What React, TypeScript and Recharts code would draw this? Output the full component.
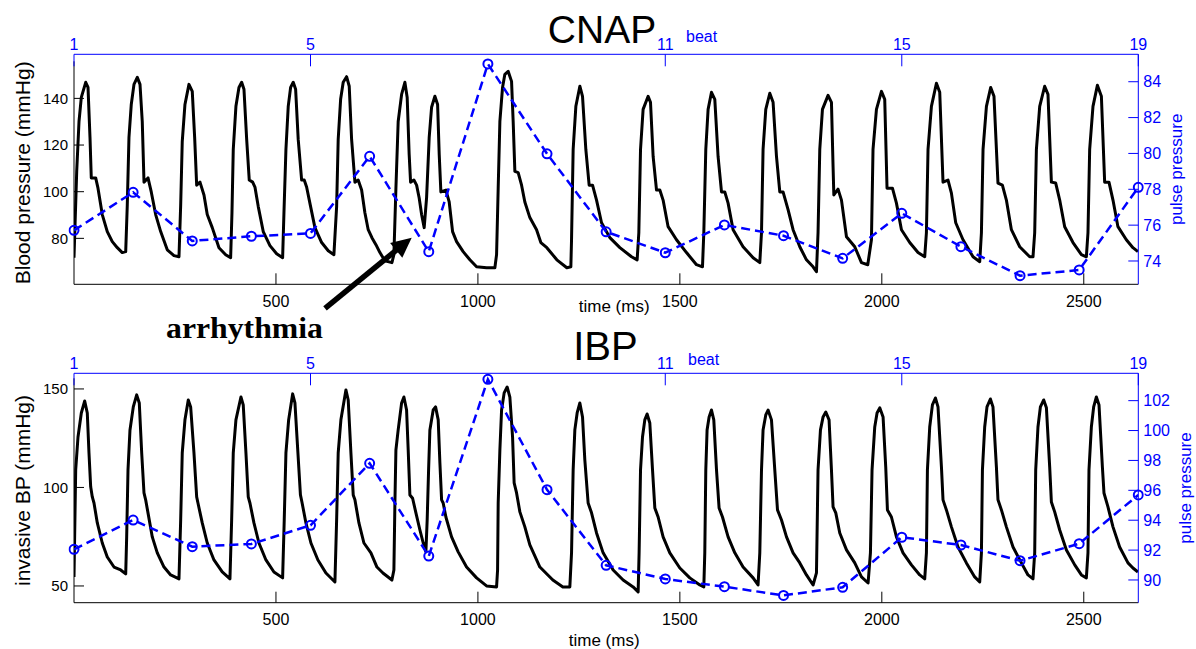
import { LineChart, Line, XAxis, YAxis } from 'recharts';

// CNAP waveform, one beat per row (time in ms, pressure in mmHg)
const cnapTime = [
  0, 6.7, 12.4, 18.1, 29.0, 34.7, 39.6, 42.8, 53.7, 59.4, 70.0, 82.4, 94.8, 107.2, 119.5, 128.0,
  131.9, 136.1, 141.8, 148.5, 156.7, 163.4, 169.0, 173.3, 183.2, 191.3, 202.2, 214.6, 230.9, 247.5, 259.9,
  264.1, 268.0, 274.7, 284.6, 292.8, 298.7, 303.7, 311.9, 321.8, 329.9, 342.3, 358.9, 375.5, 387.8,
  391.1, 394.3, 400.9, 408.4, 415.1, 420.8, 427.5, 433.9, 442.3, 448.0, 456.2, 468.5, 485.1, 501.7, 516.5,
  519.8, 524.7, 530.4, 536.3, 542.8, 548.7, 555.1, 563.6, 570.0, 575.9, 585.8, 596.5, 613.1, 629.4, 643.5,
  650.2, 654.1, 660.1, 666.5, 674.9, 681.4, 687.3, 695.5, 703.6, 712.1, 720.2, 728.4, 737.6, 747.5, 757.4, 769.7, 787.1,
  792.0, 797.0, 802.6, 811.1, 819.2, 824.9, 829.8, 833.3, 841.5, 848.2, 854.6, 860.6, 867.0,
  872.9, 879.4, 885.3, 893.5, 900.2, 904.2, 908.3, 920.7, 928.9, 937.3, 947.2, 963.5, 980.1, 996.7, 1021.4, 1042.0,
  1046.2, 1050.2, 1054.4, 1061.0, 1066.7, 1074.9, 1083.3, 1087.3, 1091.5, 1099.7, 1108.1, 1116.2, 1128.6, 1145.2, 1155.8, 1170.7, 1195.4, 1220.2, 1230.1,
  1231.8, 1235.8, 1242.5, 1252.4, 1259.0, 1267.2, 1275.4, 1283.8, 1293.7, 1306.1, 1326.6, 1351.4, 1380.3, 1394.2,
  1398.4, 1402.6, 1409.0, 1421.4, 1427.3, 1433.8, 1442.2, 1450.4, 1458.5, 1470.9, 1491.7, 1516.4, 1541.2, 1556.0,
  1559.3, 1564.2, 1569.9, 1578.3, 1586.5, 1594.6, 1603.1, 1611.2, 1619.4, 1631.8, 1656.5, 1681.3, 1697.9,
  1702.1, 1706.0, 1712.7, 1722.6, 1730.8, 1739.2, 1747.4, 1755.5, 1767.9, 1780.3, 1796.9, 1813.4, 1829.8, 1838.2,
  1842.1, 1846.4, 1853.0, 1866.9, 1875.3, 1879.3, 1881.2, 1891.6, 1900.1, 1912.5, 1933.0, 1949.6, 1965.2,
  1974.3, 1978.2, 1986.7, 1999.1, 2007.2, 2012.9, 2026.3, 2036.2, 2048.6, 2069.1, 2089.6, 2106.2,
  2110.4, 2114.4, 2122.8, 2135.2, 2143.4, 2151.5, 2163.9, 2172.3, 2183.0, 2201.0, 2225.8, 2242.4,
  2246.6, 2250.6, 2259.0, 2269.6, 2277.7, 2287.6, 2298.5, 2308.4, 2320.8, 2341.4, 2366.1, 2374.3,
  2378.5, 2382.7, 2390.9, 2403.2, 2411.4, 2419.8, 2430.5, 2440.4, 2452.7, 2473.3, 2494.1, 2506.4,
  2510.4, 2514.6, 2522.8, 2533.7, 2543.6, 2551.7, 2562.4, 2572.3, 2584.6, 2605.4, 2621.7, 2634.1,
];
const cnapBP = [
  71.7, 108.7, 130.1, 140.4, 146.9, 144.7, 123.3, 105.9, 105.9, 101.5, 90.2, 82.9, 78.6, 76.0, 73.9, 74.3,
  94.2, 123.3, 137.4, 146.0, 149.0, 146.0, 130.1, 104.1, 105.9, 99.9, 90.2, 82.9, 75.1, 72.6, 72.1,
  94.2, 121.5, 137.4, 146.0, 143.0, 123.3, 102.8, 104.1, 98.6, 90.2, 84.6, 76.0, 73.0, 71.7,
  91.0, 118.1, 136.6, 144.7, 146.9, 143.9, 122.4, 105.0, 104.1, 102.0, 93.6, 82.9, 76.9, 73.4, 71.7,
  91.0, 118.1, 136.6, 144.7, 146.9, 143.9, 122.4, 105.0, 105.0, 102.0, 93.6, 84.6, 78.2, 74.7, 73.0,
  93.6, 122.4, 139.6, 146.9, 149.3, 145.2, 122.4, 104.1, 105.0, 100.7, 91.0, 83.7, 80.3, 77.3, 73.9, 70.4, 69.6,
  73.0, 101.5, 130.1, 141.7, 146.9, 140.4, 116.0, 104.1, 105.0, 102.8, 97.3, 90.2, 84.6,
  97.3, 123.3, 136.2, 140.9, 137.4, 116.0, 99.9, 100.7, 95.6, 82.9, 78.6, 74.3, 70.8, 67.8, 67.4, 67.4,
  73.0, 101.5, 130.1, 144.7, 150.3, 151.6, 147.3, 130.1, 108.7, 108.2, 102.8, 95.6, 88.9, 83.7, 78.2, 76.0, 70.8, 67.4, 67.8,
  79.4, 118.1, 136.6, 145.2, 140.9, 118.1, 102.8, 102.8, 96.4, 86.7, 80.3, 76.0, 72.1, 70.8,
  82.4, 118.1, 135.3, 140.9, 138.3, 115.1, 100.7, 100.7, 96.4, 85.0, 79.4, 73.9, 68.7, 67.8,
  82.4, 118.1, 135.3, 142.6, 139.6, 115.1, 99.9, 99.9, 95.1, 83.7, 76.4, 71.7, 69.6,
  82.4, 118.1, 135.3, 142.2, 138.3, 115.1, 99.9, 99.9, 92.3, 83.7, 76.4, 70.8, 67.8, 65.7,
  82.4, 118.1, 135.3, 141.3, 138.3, 110.8, 98.6, 101.1, 96.4, 80.7, 76.4, 69.6, 68.7,
  79.4, 118.1, 135.3, 143.0, 139.6, 101.5, 101.5, 95.1, 83.7, 78.2, 73.9, 72.1,
  82.4, 118.1, 136.6, 146.5, 142.6, 104.1, 105.0, 99.4, 86.7, 79.4, 72.1, 70.0,
  82.4, 118.1, 136.6, 144.7, 140.9, 103.7, 102.8, 96.4, 83.7, 76.4, 72.1, 72.1,
  82.4, 118.1, 136.6, 145.2, 141.7, 104.1, 103.7, 96.4, 85.0, 78.2, 73.0, 72.1,
  82.4, 118.1, 136.6, 145.6, 140.9, 104.1, 104.1, 96.4, 85.0, 79.4, 76.0, 74.3,
];

// invasive (IBP) waveform
const ibpTime = [
  0, 4.2, 9.9, 18.1, 26.5, 32.9, 37.1, 41.3, 45.3, 49.5, 57.7, 70.0, 82.4, 99.0, 115.6, 128.0,
  130.4, 133.7, 138.6, 146.8, 155.2, 161.6, 167.6, 173.3, 177.4, 183.2, 193.8, 206.2, 222.8, 239.3, 259.9,
  264.1, 268.0, 274.7, 282.9, 288.8, 297.0, 303.7, 306.9, 317.5, 329.9, 346.5, 367.0, 386.1,
  390.3, 394.3, 400.9, 413.3, 419.0, 425.7, 431.4, 435.6, 445.5, 457.9, 475.2, 495.0, 516.5,
  520.5, 524.7, 531.4, 541.3, 547.0, 554.4, 560.6, 564.3, 574.2, 586.6, 603.9, 623.7, 646.0,
  650.2, 654.1, 660.8, 673.2, 678.9, 685.6, 691.3, 695.5, 705.4, 717.8, 735.1, 750.0, 764.8, 787.1,
  792.0, 794.5, 797.0, 802.6, 811.1, 816.8, 823.4, 827.4, 831.6, 838.3, 846.5, 856.4, 864.6, 871.2,
  874.4, 877.9, 881.1, 889.3, 895.2, 901.7, 905.9, 910.1, 914.0, 920.7, 934.8, 951.1, 971.9, 996.7, 1021.4, 1046.2,
  1048.7, 1050.2, 1054.4, 1058.6, 1065.0, 1072.4, 1079.1, 1085.8, 1089.7, 1095.7, 1103.9, 1116.2, 1128.6, 1153.4, 1185.5, 1210.3, 1227.6,
  1231.8, 1235.8, 1240.0, 1245.7, 1252.4, 1259.0, 1264.7, 1272.9, 1281.3, 1293.7, 1310.0, 1334.8, 1359.5, 1384.3, 1396.7,
  1399.1, 1402.6, 1407.5, 1413.2, 1418.9, 1425.6, 1432.3, 1438.0, 1446.2, 1458.5, 1475.1, 1499.9, 1524.6, 1549.4, 1559.3,
  1561.7, 1564.2, 1567.4, 1572.4, 1578.3, 1584.0, 1590.7, 1597.1, 1605.5, 1619.4, 1636.0, 1656.5, 1681.3, 1693.6,
  1697.9, 1702.1, 1706.0, 1712.7, 1718.4, 1726.8, 1735.0, 1741.7, 1751.6, 1764.0, 1780.3, 1796.9, 1813.4, 1829.8,
  1838.2, 1842.1, 1848.1, 1854.6, 1861.3, 1869.4, 1875.3, 1879.3, 1886.0, 1895.9, 1912.5, 1933.0, 1949.6, 1966.0,
  1971.8, 1975.8, 1982.5, 1988.2, 1994.9, 2003.1, 2009.7, 2013.9, 2023.8, 2036.2, 2052.5, 2073.3, 2093.9, 2106.2,
  2110.4, 2112.9, 2118.6, 2125.3, 2132.7, 2139.1, 2147.6, 2151.5, 2159.9, 2172.3, 2188.6, 2209.4, 2229.9, 2242.4,
  2246.6, 2249.1, 2254.7, 2260.4, 2268.8, 2275.2, 2283.7, 2287.6, 2296.1, 2308.4, 2324.8, 2345.5, 2361.9, 2374.3,
  2378.5, 2381.0, 2386.6, 2392.6, 2400.8, 2407.5, 2415.6, 2419.8, 2428.0, 2440.4, 2457.0, 2477.6, 2494.1, 2506.4,
  2510.4, 2512.9, 2518.8, 2524.5, 2531.2, 2537.7, 2546.1, 2550.0, 2559.9, 2572.3, 2588.8, 2609.4, 2621.7, 2634.1,
];
const ibpBP = [
  54.6, 108.9, 125.6, 137.8, 143.9, 137.8, 117.5, 100.3, 95.2, 92.1, 82.0, 71.8, 64.7, 59.6, 58.1, 56.1,
  74.9, 108.9, 129.2, 140.9, 147.0, 142.9, 117.5, 97.2, 93.7, 87.1, 74.9, 66.8, 59.6, 55.6, 53.6,
  83.5, 117.5, 134.3, 144.4, 140.9, 117.5, 95.2, 92.1, 82.0, 71.8, 63.2, 57.1, 53.6,
  83.5, 117.5, 134.3, 145.9, 141.9, 117.5, 95.2, 92.1, 82.0, 71.8, 63.2, 57.1, 54.1,
  83.5, 117.5, 134.3, 147.5, 142.9, 117.5, 96.2, 92.6, 82.0, 71.8, 63.2, 56.6, 52.0,
  83.5, 117.5, 134.3, 149.5, 144.4, 117.5, 96.2, 93.7, 82.0, 71.8, 66.8, 59.6, 56.6, 53.0,
  58.1, 92.1, 119.0, 129.2, 142.9, 145.9, 139.3, 119.0, 96.2, 94.5, 87.1, 78.4, 71.8, 67.3,
  83.5, 108.9, 129.2, 139.3, 140.9, 134.3, 112.4, 93.7, 92.1, 85.0, 74.9, 67.3, 59.6, 54.1, 50.0, 49.5,
  58.1, 92.1, 119.0, 139.3, 148.0, 151.0, 145.9, 125.6, 102.3, 97.2, 87.6, 80.0, 70.8, 59.6, 53.0, 49.5, 49.5,
  66.8, 108.9, 129.2, 137.8, 142.9, 135.8, 114.0, 92.1, 87.1, 76.9, 66.8, 58.1, 53.0, 49.5, 47.0,
  66.8, 108.9, 125.6, 134.3, 137.3, 132.7, 108.9, 89.6, 85.0, 74.9, 66.8, 59.1, 54.1, 50.5, 49.5,
  66.8, 108.9, 129.2, 135.8, 139.3, 134.3, 108.9, 89.6, 85.0, 74.9, 66.8, 59.6, 54.1, 50.5,
  66.8, 108.9, 129.2, 136.8, 139.3, 134.3, 108.9, 88.6, 83.5, 74.9, 66.8, 61.7, 55.6, 50.5,
  56.6, 108.9, 129.2, 135.8, 138.3, 134.3, 108.9, 90.1, 87.1, 76.9, 68.3, 61.7, 54.6, 51.5,
  66.8, 108.9, 130.7, 137.8, 140.4, 135.8, 110.4, 88.6, 85.0, 74.9, 66.8, 60.7, 55.6, 53.6,
  66.8, 108.9, 130.7, 141.9, 145.4, 140.9, 110.4, 93.7, 88.6, 80.0, 69.8, 61.7, 54.6, 52.0,
  66.8, 108.9, 130.7, 140.9, 144.9, 140.9, 110.4, 93.7, 88.6, 80.0, 69.8, 61.7, 55.6, 53.6,
  66.8, 108.9, 130.7, 140.9, 144.4, 140.4, 110.4, 92.6, 87.6, 78.4, 68.3, 60.7, 55.6, 54.1,
  66.8, 108.9, 130.7, 140.9, 145.9, 141.9, 110.4, 97.2, 90.1, 80.0, 69.8, 61.7, 59.1, 57.1,
];

// pulse pressure per beat
const beats = [1, 2, 3, 4, 5, 6, 7, 8, 9, 10, 11, 12, 13, 14, 15, 16, 17, 18, 19];
const cnapPulse = [75.71, 77.83, 75.12, 75.38, 75.54, 79.84, 74.52, 84.99, 79.98, 75.63, 74.46, 76.01, 75.41, 74.15, 76.66, 74.8, 73.18, 73.5, 78.11];
const ibpPulse = [92.05, 94.01, 92.23, 92.41, 93.66, 97.81, 91.6, 103.43, 96.04, 90.98, 90.07, 89.55, 88.97, 89.51, 92.86, 92.34, 91.29, 92.43, 95.69];

const timeTicks = [500, 1000, 1500, 2000, 2500];
const beatTicks = [1, 5, 11, 15, 19];
const cnapTicks = [80, 100, 120, 140];
const ibpTicks = [50, 100, 150];
const cnapPulseTicks = [74, 76, 78, 80, 82, 84];
const ibpPulseTicks = [90, 92, 94, 96, 98, 100, 102];

const BLUE = '#0000ff';
const W = 1196;
const TIME_DOMAIN: [number, number] = [0, 2635];

type PanelProps = {
  top: number;
  height: number;
  wave: { t: number; bp: number }[];
  bpDomain: [number, number];
  bpTicks: number[];
  bpLabel: string;
  pulse: { beat: number; pp: number }[];
  ppDomain: [number, number];
  ppTicks: number[];
  boxTop: number;
  beatTop: number;
  plotBottom: number;
  xAxisHeight: number;
  xLabelOffset: number;
  xLabelDx: number;
  ppLabelOffset: number;
};

const Panel = (p: PanelProps) => {
  const layer = { position: 'absolute' as const, left: 0, top: p.top };
  return (
    <>
      <div style={layer}>
        <LineChart
          width={W}
          height={p.height}
          data={p.wave}
          margin={{ top: p.boxTop, left: 14, right: 57.7, bottom: p.height - p.plotBottom - p.xAxisHeight }}
        >
          <XAxis
            xAxisId="time"
            dataKey="t"
            type="number"
            domain={TIME_DOMAIN}
            allowDataOverflow
            ticks={timeTicks}
            interval={0}
            height={p.xAxisHeight}
            stroke="#000"
            tickSize={-11}
            tickMargin={22}
            tick={{ fill: '#000', fontSize: 16 }}
            label={{ value: 'time (ms)', position: 'insideBottom', offset: p.xLabelOffset, dx: p.xLabelDx, fill: '#000', fontSize: 17 }}
          />
          <XAxis
            xAxisId="timeMirror"
            orientation="top"
            type="number"
            domain={TIME_DOMAIN}
            allowDataOverflow
            ticks={timeTicks}
            interval={0}
            height={0}
            stroke="#000"
            tickSize={-11}
            tick={false}
          />
          <YAxis
            yAxisId="bp"
            domain={p.bpDomain}
            allowDataOverflow
            ticks={p.bpTicks}
            interval={0}
            width={60}
            stroke="#000"
            tickSize={-10}
            tickMargin={16}
            tick={{ fill: '#000', fontSize: 15 }}
            label={{ value: p.bpLabel, angle: -90, position: 'insideLeft', offset: 9, style: { textAnchor: 'middle' }, fill: '#000', fontSize: 21 }}
          />
          <YAxis
            yAxisId="bpMirror"
            orientation="right"
            domain={p.bpDomain}
            allowDataOverflow
            ticks={p.bpTicks}
            interval={0}
            width={0}
            stroke="#000"
            tickSize={-10}
            tick={false}
          />
          <Line
            xAxisId="time"
            yAxisId="bp"
            type="linear"
            dataKey="bp"
            stroke="#000"
            strokeWidth={3}
            strokeLinejoin="round"
            dot={false}
            isAnimationActive={false}
          />
        </LineChart>
      </div>
      <div style={layer}>
        <LineChart
          width={W}
          height={p.height}
          data={p.pulse}
          margin={{ top: p.beatTop - 30, left: 74, right: 7.7, bottom: p.height - p.plotBottom }}
        >
          <XAxis
            xAxisId="beat"
            dataKey="beat"
            type="number"
            orientation="top"
            domain={[1, 19]}
            allowDataOverflow
            ticks={beatTicks}
            interval={0}
            height={30}
            stroke={BLUE}
            tickSize={-12}
            tickMargin={16}
            tick={{ fill: BLUE, fontSize: 16 }}
          />
          <YAxis
            yAxisId="pp"
            orientation="right"
            domain={p.ppDomain}
            allowDataOverflow
            ticks={p.ppTicks}
            interval={0}
            width={50}
            stroke={BLUE}
            tickSize={-10}
            tickMargin={15}
            tick={{ fill: BLUE, fontSize: 16 }}
            label={{ value: 'pulse pressure', angle: -90, position: 'insideRight', offset: p.ppLabelOffset, style: { textAnchor: 'middle' }, fill: BLUE, fontSize: 17 }}
          />
          <Line
            xAxisId="beat"
            yAxisId="pp"
            type="linear"
            dataKey="pp"
            stroke={BLUE}
            strokeWidth={2.5}
            strokeDasharray="9 5"
            dot={{ r: 4.5, stroke: BLUE, strokeWidth: 2, fill: 'none', strokeDasharray: 'none', clipDot: false }}
            isAnimationActive={false}
          />
        </LineChart>
      </div>
    </>
  );
};

export default function App() {
  const cnapWave = cnapTime.map((t, i) => ({ t, bp: cnapBP[i] }));
  const ibpWave = ibpTime.map((t, i) => ({ t, bp: ibpBP[i] }));
  const cnapBeats = beats.map((beat, i) => ({ beat, pp: cnapPulse[i] }));
  const ibpBeats = beats.map((beat, i) => ({ beat, pp: ibpPulse[i] }));

  return (
    <div
      style={{
        position: 'absolute',
        left: 0,
        top: 0,
        width: W,
        height: 649,
        background: '#fff',
        fontFamily: '"Liberation Sans", Arial, sans-serif',
        overflow: 'hidden',
      }}
    >
      <Panel
        top={0}
        height={330}
        wave={cnapWave}
        bpDomain={[60.3, 155.9]}
        bpTicks={cnapTicks}
        bpLabel="Blood pressure (mmHg)"
        pulse={cnapBeats}
        ppDomain={[72.7, 85.53]}
        ppTicks={cnapPulseTicks}
        boxTop={61.3}
        beatTop={54.3}
        plotBottom={284.3}
        xAxisHeight={40}
        xLabelOffset={12}
        xLabelDx={8}
        ppLabelOffset={12}
      />
      <Panel
        top={320}
        height={329}
        wave={ibpWave}
        bpDomain={[41.5, 155.4]}
        bpTicks={ibpTicks}
        bpLabel="invasive BP (mmHg)"
        pulse={ibpBeats}
        ppDomain={[88.48, 103.83]}
        ppTicks={ibpPulseTicks}
        boxTop={58.3}
        beatTop={53.3}
        plotBottom={282.7}
        xAxisHeight={44.3}
        xLabelOffset={1}
        xLabelDx={-2}
        ppLabelOffset={3}
      />
      <svg width={W} height={649} style={{ position: 'absolute', left: 0, top: 0, pointerEvents: 'none' }}>
        <text x={602} y={43} textAnchor="middle" fontSize={39} fill="#000">CNAP</text>
        <text x={605.5} y={360} textAnchor="middle" fontSize={40} fill="#000">IBP</text>
        <text x={686} y={41.5} fontSize={16} fill={BLUE}>beat</text>
        <text x={688} y={365} fontSize={16} fill={BLUE}>beat</text>
        <text
          x={166}
          y={338}
          fontFamily='"Liberation Serif", "Times New Roman", serif'
          fontWeight="bold"
          fontSize={29}
          textLength={157}
          lengthAdjust="spacingAndGlyphs"
          fill="#000"
        >
          arrhythmia
        </text>
        <line x1={325} y1={308.3} x2={397} y2={249.6} stroke="#000" strokeWidth={5.5} />
        <polygon points="411.7,237.7 402.3,257.7 390.1,242.9" fill="#000" />
      </svg>
    </div>
  );
}
